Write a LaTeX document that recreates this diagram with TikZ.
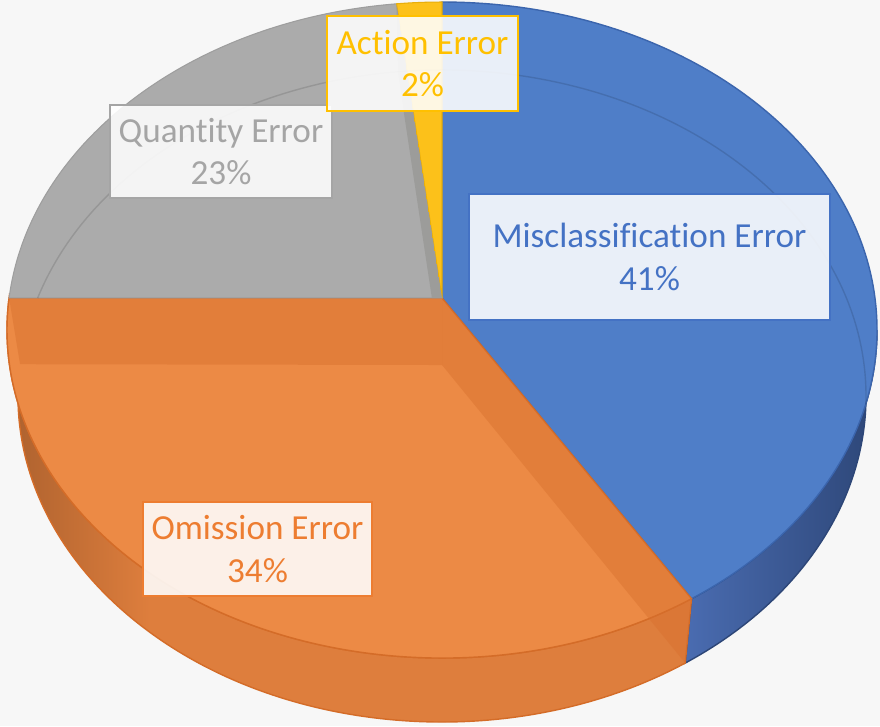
\documentclass[tikz,border=0pt]{standalone}
\usepackage{fontspec}
\setmainfont[Ligatures=NoCommon]{Carlito}
\definecolor{bgcol}{HTML}{F7F7F7}
\definecolor{pieblue}{HTML}{4F7EC8}
\definecolor{blueside}{HTML}{4A6CB1}
\definecolor{bluedark}{HTML}{2D4677}
\definecolor{blueedge}{HTML}{3B65AD}
\definecolor{pieorange}{HTML}{EC8A45}
\definecolor{orangeside}{HTML}{DE7E3D}
\definecolor{orangedark}{HTML}{A95F2D}
\definecolor{orangeedge}{HTML}{D46C28}
\definecolor{orangewall}{HTML}{D8702E}
\definecolor{piegray}{HTML}{ABABAB}
\definecolor{grayedge}{HTML}{9E9E9E}
\definecolor{graywall}{HTML}{9C9C9A}
\definecolor{pieyellow}{HTML}{FCC11A}
\definecolor{yellowedge}{HTML}{E8AE0C}
\definecolor{txtblue}{HTML}{4472C4}
\definecolor{txtgray}{HTML}{A5A5A5}
\definecolor{txtorange}{HTML}{ED7D31}
\definecolor{txtyellow}{HTML}{FFC000}
\pgfdeclarehorizontalshading{orangewallshade}{100bp}{color(0bp)=(orangedark); color(25bp)=(orangedark); color(36bp)=(orangeside); color(100bp)=(orangeside)}
\tikzset{
  errbox/.style={draw=#1, text=#1, fill=white, fill opacity=0.88, text opacity=1,
    line width=0.6pt, align=center, inner sep=0pt, font=\fontsize{10}{12.2}\selectfont},
  toprim/.style={x radius=435, y radius=328},
  botrim/.style={x radius=424, y radius=326}
}
\begin{document}
\begin{tikzpicture}[x=0.01cm,y=-0.01cm]
\useasboundingbox (0,0) rectangle (880,726);
\fill[bgcol] (0,0) rectangle (880,726);

\coordinate (P) at (442,298);
\coordinate (Q) at (442,365);
\coordinate (t0) at (877,330);
\coordinate (t55) at ({442+435*cos(55)},{330+328*sin(55)});
\coordinate (b55) at ({442+424*cos(55)},{396+326*sin(55)});
\coordinate (t185) at ({442+435*cos(185.6)},{330+328*sin(185.6)});
\coordinate (b185) at ({442+424*cos(185.6)},{396+326*sin(185.6)});
\coordinate (t264) at ({442+435*cos(264)},{330+328*sin(264)});
\coordinate (b264) at ({442+424*cos(264)},{396+326*sin(264)});
\coordinate (t270) at (442,2);
\coordinate (r197) at ({442+424*cos(197.5)},{396+326*sin(197.5)});

% side walls
\path[left color=blueside, right color=bluedark, draw=bluedark, line width=0.4pt]
  (t0) arc[start angle=0, end angle=55, toprim] -- (b55)
  arc[start angle=55, end angle=0, botrim] -- cycle;
\path[shading=orangewallshade, draw=orangeedge, line width=0.4pt]
  (t55) arc[start angle=55, end angle=185.6, toprim] -- (b185)
  arc[start angle=185.6, end angle=55, botrim] -- cycle;

% top faces
\path[fill=pieblue, draw=blueedge, line width=0.4pt]
  (P) -- (t270) arc[start angle=-90, end angle=55, toprim] -- cycle;
\path[fill=pieorange, draw=orangeedge, line width=0.4pt]
  (P) -- (t55) arc[start angle=55, end angle=185.6, toprim] -- cycle;
\path[fill=piegray, draw=grayedge, line width=0.3pt]
  (P) -- (t185) arc[start angle=185.6, end angle=264, toprim] -- cycle;
\path[fill=pieyellow, draw=yellowedge, line width=0.3pt]
  (P) -- (t264) arc[start angle=264, end angle=270, toprim] -- cycle;

% cut faces showing through
\fill[orangewall, fill opacity=0.45] (P) -- (t55) -- (b55) -- (Q) -- cycle;
\fill[orangewall, fill opacity=0.45] (P) -- (t185) -- (b185) -- (Q) -- cycle;
\begin{scope}
  \clip (P) -- (t185) arc[start angle=185.6, end angle=264, toprim] -- cycle;
  \fill[graywall] (P) -- (t264) -- (b264) -- (Q) -- cycle;
\end{scope}
\draw[black, opacity=0.12, line width=0.4pt]
  (r197) arc[start angle=197.5, end angle=361.5, botrim];

% labels
\node[errbox=txtblue, minimum width=3.61cm, minimum height=1.26cm] (miscl) at (649.5,257) {Misclassification Error\\41\%};
\node[errbox=txtgray, minimum width=2.22cm, minimum height=0.93cm] (quant) at (221,151.5) {Quantity Error\\23\%};
\node[errbox=txtyellow, minimum width=1.91cm, minimum height=0.95cm] (action) at (422.5,63.5) {Action Error\\2\%};
\node[errbox=txtorange, minimum width=2.29cm, minimum height=0.94cm] (omiss) at (257.5,549) {Omission Error\\34\%};
\end{tikzpicture}
\end{document}
